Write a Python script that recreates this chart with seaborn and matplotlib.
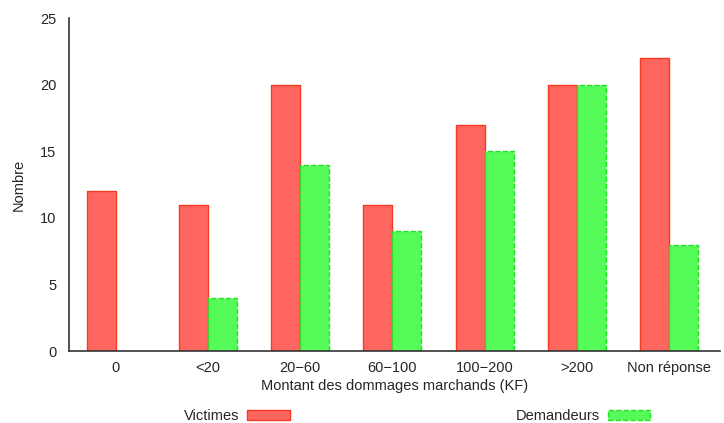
import numpy as np
import pandas as pd
import seaborn as sns
import matplotlib.pyplot as plt
from matplotlib.patches import Patch

categories = ['0', '<20', '20\u221260', '60\u2212100', '100\u2212200', '>200', 'Non réponse']
victimes = [12, 11, 20, 11, 17, 20, 22]
demandeurs = [np.nan, 4, 14, 9, 15, 20, 8]
series_names = ['Victimes', 'Demandeurs']

df = pd.DataFrame({
    'Montant': categories * 2,
    'Nombre': victimes + demandeurs,
    'Serie': [series_names[0]] * len(categories) + [series_names[1]] * len(categories),
})

sns.set_style('white')
plt.rcParams['font.family'] = ['Liberation Sans', 'DejaVu Sans']
fs = 10.5

fills = {'Victimes': '#ff6660', 'Demandeurs': '#55fb58'}
edges = {'Victimes': '#f53a20', 'Demandeurs': '#22e022'}
styles = {'Victimes': '-', 'Demandeurs': '--'}

fig = plt.figure(figsize=(7.24, 4.23), dpi=100)
ax = fig.add_axes([0.095, 0.170, 0.899, 0.787])

sns.barplot(data=df, x='Montant', y='Nombre', hue='Serie', order=categories,
            hue_order=series_names, palette=fills, width=0.63, ax=ax,
            legend=False, errorbar=None, saturation=1)

# color edges per series
n = len(categories)
for i, bar in enumerate(ax.patches[:2 * n]):
    name = series_names[i // n]
    bar.set_edgecolor(edges[name])
    bar.set_linestyle(styles[name])
    bar.set_linewidth(1.0)

ax.set_ylim(0, 25)
ax.set_xlim(-0.51, 6.55)
ax.set_yticks([0, 5, 10, 15, 20, 25])
ax.set_xlabel('Montant des dommages marchands (KF)', fontsize=fs, labelpad=3)
ax.set_ylabel('Nombre', fontsize=fs, labelpad=10)
ax.tick_params(axis='y', direction='in', length=5, width=1, color='#333333', labelsize=fs, pad=9)
ax.tick_params(axis='x', length=0, labelsize=fs, pad=7)
sns.despine(ax=ax)
for s in ['left', 'bottom']:
    ax.spines[s].set_color('#333333')
    ax.spines[s].set_linewidth(1.2)

handles = [Patch(facecolor=fills[s], edgecolor=edges[s], linestyle=styles[s], label=s)
           for s in series_names]
fig.legend(handles=handles, loc='center left', bbox_to_anchor=(0.254, 0.017), ncol=2,
           markerfirst=False, frameon=False, handlelength=2.9, handleheight=0.7,
           handletextpad=0.55, columnspacing=15.5, fontsize=fs,
           borderpad=0, borderaxespad=0)

fig.savefig('out.png', dpi=100)
